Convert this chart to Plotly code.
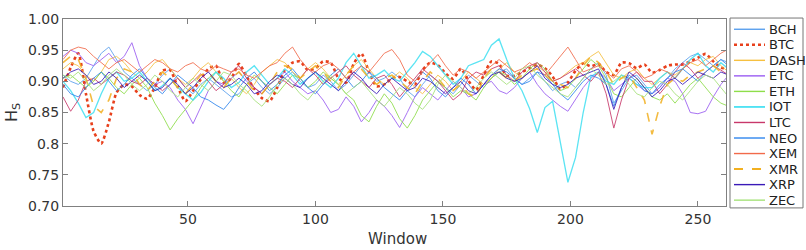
import plotly.graph_objects as go

# Window index (every third window)
window = list(range(1, 263, 3))

names = ["BCH", "BTC", "DASH", "ETC", "ETH", "IOT", "LTC", "NEO", "XEM", "XMR", "XRP", "ZEC"]

BCH = [0.910, 0.900, 0.895, 0.905, 0.925, 0.945, 0.955, 0.935, 0.915, 0.905, 0.895,
       0.885, 0.895, 0.910, 0.920, 0.905, 0.890, 0.880, 0.895, 0.905, 0.895, 0.885,
       0.875, 0.880, 0.895, 0.905, 0.890, 0.880, 0.890, 0.905, 0.915, 0.900, 0.890,
       0.895, 0.910, 0.900, 0.885, 0.895, 0.910, 0.925, 0.915, 0.900, 0.905, 0.915,
       0.905, 0.885, 0.875, 0.895, 0.910, 0.900, 0.890, 0.880, 0.895, 0.910, 0.900,
       0.890, 0.905, 0.915, 0.920, 0.905, 0.895, 0.905, 0.915, 0.900, 0.885, 0.895,
       0.900, 0.890, 0.905, 0.920, 0.930, 0.910, 0.865, 0.885, 0.905, 0.910, 0.895,
       0.880, 0.890, 0.905, 0.920, 0.930, 0.940, 0.945, 0.935, 0.925, 0.935, 0.930]

BTC = [0.890, 0.922, 0.945, 0.880, 0.820, 0.800, 0.835, 0.882, 0.895, 0.892, 0.878,
       0.872, 0.890, 0.917, 0.918, 0.891, 0.868, 0.885, 0.903, 0.920, 0.925, 0.898,
       0.905, 0.928, 0.908, 0.888, 0.873, 0.868, 0.890, 0.918, 0.930, 0.932, 0.918,
       0.921, 0.932, 0.930, 0.905, 0.898, 0.928, 0.945, 0.915, 0.892, 0.895, 0.905,
       0.907, 0.900, 0.895, 0.918, 0.930, 0.926, 0.913, 0.904, 0.920, 0.901, 0.886,
       0.910, 0.932, 0.928, 0.909, 0.909, 0.915, 0.921, 0.927, 0.921, 0.908, 0.887,
       0.898, 0.917, 0.929, 0.924, 0.928, 0.915, 0.910, 0.930, 0.929, 0.921, 0.927,
       0.914, 0.918, 0.925, 0.927, 0.927, 0.932, 0.938, 0.944, 0.932, 0.922, 0.920]

DASH = [0.920, 0.930, 0.925, 0.910, 0.900, 0.915, 0.935, 0.940, 0.930, 0.915, 0.905,
        0.915, 0.930, 0.935, 0.920, 0.905, 0.895, 0.905, 0.920, 0.930, 0.915, 0.900,
        0.905, 0.890, 0.880, 0.895, 0.915, 0.925, 0.935, 0.930, 0.915, 0.905, 0.920,
        0.930, 0.920, 0.905, 0.895, 0.910, 0.925, 0.935, 0.920, 0.905, 0.895, 0.905,
        0.915, 0.905, 0.890, 0.880, 0.895, 0.910, 0.900, 0.885, 0.900, 0.915, 0.905,
        0.895, 0.905, 0.920, 0.930, 0.915, 0.905, 0.915, 0.925, 0.915, 0.900, 0.905,
        0.915, 0.925, 0.930, 0.940, 0.948, 0.930, 0.910, 0.905, 0.915, 0.920, 0.905,
        0.895, 0.905, 0.915, 0.910, 0.920, 0.930, 0.925, 0.935, 0.940, 0.925, 0.915]

ETC = [0.940, 0.950, 0.945, 0.930, 0.925, 0.935, 0.945, 0.930, 0.940, 0.962, 0.925,
       0.905, 0.895, 0.900, 0.890, 0.870, 0.855, 0.832, 0.860, 0.885, 0.900, 0.895,
       0.905, 0.915, 0.900, 0.890, 0.880, 0.895, 0.905, 0.915, 0.900, 0.890, 0.880,
       0.885, 0.870, 0.850, 0.855, 0.875, 0.860, 0.835, 0.850, 0.870, 0.860, 0.845,
       0.826, 0.850, 0.875, 0.890, 0.880, 0.870, 0.885, 0.900, 0.890, 0.875, 0.880,
       0.895, 0.900, 0.885, 0.880, 0.890, 0.905, 0.915, 0.895, 0.880, 0.870, 0.860,
       0.852, 0.870, 0.890, 0.905, 0.915, 0.905, 0.885, 0.895, 0.905, 0.895, 0.885,
       0.880, 0.890, 0.905, 0.900, 0.880, 0.850, 0.848, 0.852, 0.875, 0.895, 0.910]

ETH = [0.905, 0.910, 0.900, 0.890, 0.900, 0.915, 0.905, 0.890, 0.880, 0.895, 0.905,
       0.890, 0.865, 0.845, 0.822, 0.840, 0.855, 0.870, 0.890, 0.905, 0.915, 0.900,
       0.885, 0.875, 0.895, 0.910, 0.900, 0.890, 0.880, 0.895, 0.910, 0.905, 0.890,
       0.900, 0.915, 0.905, 0.895, 0.880, 0.870, 0.845, 0.835, 0.860, 0.880, 0.865,
       0.840, 0.825, 0.845, 0.870, 0.885, 0.900, 0.890, 0.875, 0.885, 0.880, 0.870,
       0.890, 0.905, 0.915, 0.910, 0.895, 0.905, 0.920, 0.930, 0.920, 0.900, 0.885,
       0.890, 0.905, 0.920, 0.935, 0.925, 0.905, 0.880, 0.875, 0.890, 0.905, 0.890,
       0.875, 0.870, 0.880, 0.865, 0.880, 0.895, 0.905, 0.890, 0.875, 0.865, 0.860]

IOT = [0.900, 0.885, 0.865, 0.842, 0.850, 0.880, 0.905, 0.915, 0.900, 0.905, 0.915,
       0.900, 0.885, 0.893, 0.905, 0.890, 0.880, 0.870, 0.882, 0.900, 0.915, 0.905,
       0.890, 0.898, 0.915, 0.925, 0.910, 0.895, 0.905, 0.920, 0.910, 0.895, 0.905,
       0.915, 0.900, 0.890, 0.905, 0.930, 0.945, 0.925, 0.905, 0.910, 0.918, 0.905,
       0.900, 0.915, 0.930, 0.948, 0.940, 0.925, 0.910, 0.895, 0.905, 0.925, 0.930,
       0.935, 0.958, 0.968, 0.935, 0.905, 0.885, 0.856, 0.818, 0.858, 0.868, 0.806,
       0.738, 0.778, 0.850, 0.908, 0.915, 0.900, 0.895, 0.910, 0.905, 0.895, 0.890,
       0.890, 0.905, 0.915, 0.905, 0.920, 0.935, 0.945, 0.925, 0.915, 0.930, 0.920]

LTC = [0.875, 0.852, 0.870, 0.900, 0.905, 0.895, 0.905, 0.915, 0.910, 0.900, 0.895,
       0.905, 0.895, 0.885, 0.895, 0.905, 0.890, 0.900, 0.912, 0.900, 0.885, 0.895,
       0.915, 0.925, 0.905, 0.890, 0.880, 0.895, 0.905, 0.900, 0.890, 0.905, 0.920,
       0.910, 0.895, 0.905, 0.915, 0.925, 0.910, 0.900, 0.890, 0.905, 0.910, 0.895,
       0.875, 0.890, 0.905, 0.920, 0.910, 0.900, 0.885, 0.870, 0.880, 0.905, 0.915,
       0.910, 0.920, 0.925, 0.910, 0.900, 0.915, 0.925, 0.930, 0.915, 0.900, 0.905,
       0.912, 0.920, 0.910, 0.900, 0.915, 0.880, 0.825, 0.870, 0.905, 0.915, 0.900,
       0.900, 0.880, 0.895, 0.915, 0.930, 0.920, 0.905, 0.915, 0.925, 0.918, 0.910]

NEO = [0.895, 0.880, 0.875, 0.890, 0.905, 0.915, 0.900, 0.885, 0.895, 0.910, 0.920,
       0.905, 0.890, 0.880, 0.895, 0.910, 0.900, 0.890, 0.875, 0.870, 0.862, 0.855,
       0.870, 0.890, 0.905, 0.915, 0.900, 0.885, 0.895, 0.910, 0.920, 0.905, 0.890,
       0.880, 0.895, 0.910, 0.920, 0.905, 0.890, 0.900, 0.915, 0.905, 0.890, 0.880,
       0.870, 0.885, 0.900, 0.915, 0.905, 0.885, 0.875, 0.890, 0.905, 0.895, 0.880,
       0.895, 0.910, 0.920, 0.915, 0.905, 0.895, 0.900, 0.915, 0.910, 0.895, 0.880,
       0.870, 0.885, 0.900, 0.910, 0.905, 0.895, 0.860, 0.890, 0.910, 0.900, 0.885,
       0.880, 0.895, 0.905, 0.915, 0.920, 0.910, 0.900, 0.915, 0.925, 0.935, 0.925]

XEM = [0.935, 0.950, 0.955, 0.952, 0.940, 0.930, 0.920, 0.930, 0.935, 0.925, 0.915,
       0.925, 0.935, 0.930, 0.920, 0.915, 0.925, 0.930, 0.920, 0.915, 0.925, 0.920,
       0.915, 0.920, 0.910, 0.905, 0.915, 0.925, 0.930, 0.945, 0.955, 0.935, 0.920,
       0.915, 0.925, 0.930, 0.920, 0.905, 0.915, 0.925, 0.915, 0.930, 0.945, 0.951,
       0.935, 0.910, 0.900, 0.915, 0.930, 0.943, 0.925, 0.910, 0.920, 0.915, 0.905,
       0.915, 0.925, 0.935, 0.925, 0.915, 0.920, 0.930, 0.920, 0.910, 0.925, 0.940,
       0.955, 0.935, 0.915, 0.920, 0.925, 0.915, 0.905, 0.920, 0.925, 0.915, 0.905,
       0.910, 0.920, 0.915, 0.905, 0.920, 0.930, 0.935, 0.925, 0.935, 0.945, 0.952]

XMR = [0.930, 0.940, 0.935, 0.905, 0.860, 0.850, 0.870, 0.905, 0.920, 0.915, 0.895,
       0.885, 0.900, 0.915, 0.905, 0.890, 0.880, 0.895, 0.910, 0.915, 0.900, 0.890,
       0.905, 0.915, 0.900, 0.885, 0.880, 0.895, 0.915, 0.925, 0.920, 0.905, 0.915,
       0.925, 0.915, 0.900, 0.890, 0.910, 0.925, 0.920, 0.905, 0.895, 0.905, 0.910,
       0.900, 0.890, 0.880, 0.900, 0.915, 0.905, 0.890, 0.885, 0.895, 0.880, 0.875,
       0.905, 0.920, 0.915, 0.905, 0.900, 0.910, 0.915, 0.920, 0.910, 0.900, 0.895,
       0.890, 0.905, 0.925, 0.940, 0.930, 0.915, 0.895, 0.905, 0.910, 0.890, 0.870,
       0.815, 0.860, 0.895, 0.905, 0.900, 0.910, 0.915, 0.920, 0.925, 0.915, 0.910]

XRP = [0.905, 0.915, 0.920, 0.910, 0.895, 0.900, 0.915, 0.905, 0.890, 0.900, 0.910,
       0.900, 0.885, 0.890, 0.905, 0.895, 0.880, 0.890, 0.905, 0.915, 0.900, 0.890,
       0.895, 0.905, 0.895, 0.880, 0.885, 0.900, 0.910, 0.905, 0.895, 0.890, 0.905,
       0.915, 0.905, 0.895, 0.885, 0.900, 0.915, 0.905, 0.890, 0.880, 0.895, 0.905,
       0.895, 0.885, 0.890, 0.905, 0.900, 0.890, 0.880, 0.890, 0.900, 0.885, 0.880,
       0.895, 0.910, 0.915, 0.905, 0.900, 0.905, 0.915, 0.925, 0.905, 0.895, 0.890,
       0.895, 0.905, 0.910, 0.915, 0.920, 0.895, 0.855, 0.890, 0.915, 0.905, 0.890,
       0.875, 0.885, 0.900, 0.905, 0.895, 0.905, 0.915, 0.910, 0.905, 0.915, 0.910]

ZEC = [0.910, 0.905, 0.915, 0.900, 0.885, 0.895, 0.910, 0.920, 0.910, 0.895, 0.885,
       0.895, 0.910, 0.900, 0.885, 0.875, 0.890, 0.905, 0.895, 0.885, 0.900, 0.915,
       0.910, 0.895, 0.885, 0.870, 0.860, 0.875, 0.895, 0.905, 0.895, 0.880, 0.870,
       0.885, 0.900, 0.910, 0.895, 0.880, 0.890, 0.900, 0.885, 0.870, 0.860, 0.875,
       0.890, 0.880, 0.865, 0.855, 0.870, 0.895, 0.910, 0.900, 0.890, 0.880, 0.890,
       0.905, 0.915, 0.905, 0.895, 0.905, 0.920, 0.925, 0.910, 0.900, 0.890, 0.880,
       0.875, 0.890, 0.905, 0.920, 0.910, 0.895, 0.900, 0.910, 0.895, 0.880, 0.875,
       0.890, 0.900, 0.895, 0.880, 0.870, 0.885, 0.900, 0.910, 0.905, 0.890, 0.875]

y_ticks = [0.70, 0.75, 0.80, 0.85, 0.90, 0.95, 1.00]
y_tick_labels = ["0.70", "0.75", "0.8", "0.85", "0.90", "0.95", "1.00"]
x_ticks = [50, 100, 150, 200, 250]

series = [BCH, BTC, DASH, ETC, ETH, IOT, LTC, NEO, XEM, XMR, XRP, ZEC]
styles = {
    "BCH": dict(color="#5aa0ee", width=1, dash="solid"),
    "BTC": dict(color="#e8401c", width=2.6, dash="dot"),
    "DASH": dict(color="#f6c040", width=1, dash="solid"),
    "ETC": dict(color="#9a5cf2", width=1, dash="solid"),
    "ETH": dict(color="#8ede4a", width=1, dash="solid"),
    "IOT": dict(color="#3fe0f2", width=1.3, dash="solid"),
    "LTC": dict(color="#c8386a", width=1, dash="solid"),
    "NEO": dict(color="#2f86ee", width=1, dash="solid"),
    "XEM": dict(color="#f26a4a", width=1, dash="solid"),
    "XMR": dict(color="#f2b020", width=1.6, dash="dash"),
    "XRP": dict(color="#3a1ab8", width=1, dash="solid"),
    "ZEC": dict(color="#a6e27a", width=1, dash="solid"),
}

fig = go.Figure()
for name, vals in zip(names, series):
    st = styles[name]
    fig.add_trace(go.Scatter(
        x=window, y=vals, mode="lines", name=name, showlegend=False,
        line=dict(color=st["color"], width=st["width"], dash=st["dash"],
                  shape="spline" if name == "BTC" else "linear", smoothing=0.6),
        opacity=0.85 if name != "BTC" else 1.0,
    ))

# Compact legend box (native legend rows are too tall for 12 entries here)
L, R, T, B = 63, 726, 11, 206
pw, ph = R - L, B - T
def px2x(px):
    return (px - L) / pw
def py2y(py):
    return (B - py) / ph

shapes = [dict(type="rect", xref="paper", yref="paper",
               x0=px2x(730), x1=px2x(803), y0=py2y(208), y1=py2y(10),
               line=dict(color="#777777", width=1), fillcolor="white", layer="above")]
annotations = []
for i, name in enumerate(names):
    st = styles[name]
    yy = py2y(21.7 + 16.2 * i)
    shapes.append(dict(type="line", xref="paper", yref="paper",
                       x0=px2x(734), x1=px2x(765), y0=yy, y1=yy,
                       line=dict(color=st["color"], width=min(st["width"] + 0.4, 2.6), dash=st["dash"]),
                       layer="above"))
    annotations.append(dict(xref="paper", yref="paper", x=px2x(767), y=yy,
                            xanchor="left", yanchor="middle", text=name, showarrow=False,
                            font=dict(size=13, color="#222222")))

# x-axis title placed explicitly
annotations.append(dict(xref="paper", yref="paper", x=px2x(397), y=py2y(240),
                        xanchor="center", yanchor="middle", text="Window", showarrow=False,
                        font=dict(size=15, color="#333333")))

font_family = "DejaVu Sans"
fig.update_layout(
    width=806, height=250,
    margin=dict(l=L, r=806 - R, t=T, b=250 - B),
    paper_bgcolor="white", plot_bgcolor="white",
    font=dict(family=font_family, size=14, color="#333333"),
    showlegend=False,
    shapes=shapes, annotations=annotations,
    xaxis=dict(
        range=[1, 261], tickvals=x_ticks, ticks="inside", ticklen=5,
        showline=True, linecolor="#808080", linewidth=1, mirror="ticks",
        tickcolor="#808080",
        showgrid=False, zeroline=False,
        tickfont=dict(size=14),
    ),
    yaxis=dict(
        range=[0.70, 1.00], tickvals=y_ticks, ticktext=y_tick_labels,
        ticks="inside", ticklen=5, tickcolor="#808080",
        showline=True, linecolor="#808080", linewidth=1, mirror="ticks",
        showgrid=False, zeroline=False,
        title=dict(text="H<sub>S</sub>", font=dict(size=16), standoff=6),
        tickfont=dict(size=14),
    ),
)

fig.write_html("out.html", config={"displayModeBar": False},
               post_script="document.body.style.margin='0';document.body.style.padding='0';")
